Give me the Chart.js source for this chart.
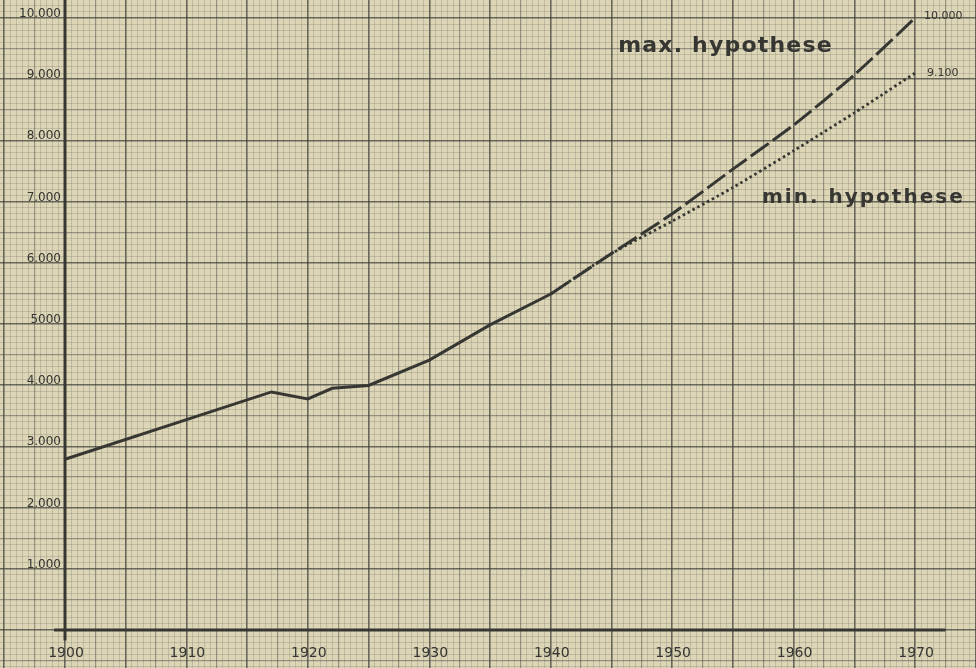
<!DOCTYPE html>
<html>
<head>
<meta charset="utf-8">
<title>Bevölkerung 1900 - 1970</title>
<script src="https://cdn.jsdelivr.net/npm/chart.js@4/dist/chart.umd.min.js"></script>
<style>
  html, body { margin: 0; padding: 0; background: #ddd6b6; }
  #wrap { width: 976px; height: 668px; position: relative; }
</style>
</head>
<body>
<div id="wrap"><canvas id="popChart"></canvas></div>
<script>
// --- Data ---
const histYears  = [1900, 1917, 1920, 1922, 1925, 1930, 1935, 1940];
const histValues = [2790, 3890, 3775, 3950, 3995, 4410, 4985, 5490];

const projYears = [1940, 1945, 1950, 1955, 1960, 1965, 1970];
const maxValues = [5490, 6150, 6800, 7530, 8250, 9070, 10000];
const minValues = [5490, 6150, 6680, 7230, 7830, 8450, 9100];

const seriesNames = ["max. hypothese", "min. hypothese"];
const endLabels = ["10.000", "9.100"];

const yTickValues = [1000, 2000, 3000, 4000, 5000, 6000, 7000, 8000, 9000, 10000];
const yTickLabels = ["1.000", "2.000", "3.000", "4.000", "5000", "6.000", "7.000", "8.000", "9.000", "10.000"];
const xTickYears  = [1900, 1910, 1920, 1930, 1940, 1950, 1960, 1970];
const xTickLabels = ["1900", "1910", "1920", "1930", "1940", "1950", "1960", "1970"];

// --- Look ---
const INK = "#363633";
const PAPER = "#ddd6b6";

// mm paper: fine line every step, medium every 5 steps, bold every 10 steps
function gridColor(step) {
  return ctx => {
    const n = Math.round(ctx.tick.value / step);
    if (n % 10 === 0) return "rgba(60,60,56,0.72)";
    if (n % 5 === 0) return "rgba(70,70,66,0.48)";
    return "rgba(95,95,90,0.30)";
  };
}
function gridWidth(step) {
  return ctx => {
    const n = Math.round(ctx.tick.value / step);
    if (n % 10 === 0) return 1.6;
    if (n % 5 === 0) return 1.2;
    return 0.8;
  };
}

const paperBg = {
  id: "paperBg",
  beforeDraw(chart) {
    const c = chart.ctx;
    c.save();
    c.fillStyle = PAPER;
    c.fillRect(0, 0, chart.width, chart.height);
    c.restore();
  }
};

// heavy hand drawn axes at 1900 and 0
const axesLines = {
  id: "axesLines",
  beforeDatasetsDraw(chart) {
    const {ctx, scales: {x, y}} = chart;
    ctx.save();
    ctx.strokeStyle = INK;
    ctx.lineWidth = 3;
    ctx.beginPath();
    ctx.moveTo(x.getPixelForValue(1900), y.getPixelForValue(10294));
    ctx.lineTo(x.getPixelForValue(1900), y.getPixelForValue(-170));
    ctx.moveTo(x.getPixelForValue(1899.1), y.getPixelForValue(0));
    ctx.lineTo(x.getPixelForValue(1972.5), y.getPixelForValue(0));
    ctx.stroke();
    ctx.restore();
  }
};

// tick labels and notes
const labels = {
  id: "labels",
  afterDatasetsDraw(chart) {
    const {ctx, scales: {x, y}} = chart;
    const x0 = x.getPixelForValue(1900);
    ctx.save();
    ctx.fillStyle = INK;

    ctx.font = "12px 'DejaVu Sans'";
    ctx.textAlign = "right";
    ctx.textBaseline = "alphabetic";
    yTickValues.forEach((v, i) => {
      ctx.fillText(yTickLabels[i], x0 - 4, y.getPixelForValue(v) - 1);
    });

    ctx.font = "14px 'DejaVu Sans'";
    ctx.textAlign = "center";
    xTickYears.forEach((yr, i) => {
      ctx.fillText(xTickLabels[i], x.getPixelForValue(yr) + 1, y.getPixelForValue(-440));
    });

    ctx.font = "11px 'DejaVu Sans'";
    ctx.textAlign = "left";
    const last = projYears.length - 1;
    ctx.fillText(endLabels[0], x.getPixelForValue(projYears[last]) + 9, y.getPixelForValue(maxValues[last]) + 1);
    ctx.fillText(endLabels[1], x.getPixelForValue(projYears[last]) + 12, y.getPixelForValue(minValues[last]) + 3);

    ctx.font = "bold 22px 'DejaVu Sans'";
    ctx.letterSpacing = "1.2px";
    ctx.fillText(seriesNames[0], x.getPixelForValue(1945.55), y.getPixelForValue(9440));
    ctx.font = "bold 20px 'DejaVu Sans'";
    ctx.letterSpacing = "2px";
    ctx.fillText(seriesNames[1], x.getPixelForValue(1957.4), y.getPixelForValue(6980));
    ctx.restore();
  }
};

const toPoints = (xs, ys) => xs.map((v, i) => ({x: v, y: ys[i]}));

new Chart(document.getElementById("popChart"), {
  type: "line",
  data: {
    datasets: [
      {
        label: "1900-1940",
        data: toPoints(histYears, histValues),
        borderColor: INK,
        borderWidth: 3,
        pointRadius: 0,
        tension: 0
      },
      {
        label: seriesNames[0],
        data: toPoints(projYears, maxValues),
        borderColor: INK,
        borderWidth: 3,
        borderDash: [22, 5],
        pointRadius: 0,
        tension: 0.2
      },
      {
        label: seriesNames[1],
        data: toPoints(projYears, minValues),
        borderColor: INK,
        borderWidth: 2.8,
        borderDash: [2.5, 3],
        pointRadius: 0,
        tension: 0.2
      }
    ]
  },
  options: {
    responsive: true,
    maintainAspectRatio: false,
    animation: false,
    layout: { padding: 0 },
    plugins: {
      legend: { display: false },
      tooltip: { enabled: false }
    },
    scales: {
      x: {
        type: "linear",
        min: 1894.647,
        max: 1975.02,
        border: { display: false },
        ticks: { display: false, stepSize: 0.5, includeBounds: false },
        grid: { drawTicks: false, color: gridColor(0.5), lineWidth: gridWidth(0.5) }
      },
      y: {
        type: "linear",
        min: -621,
        max: 10294,
        border: { display: false },
        ticks: { display: false, stepSize: 100, includeBounds: false },
        grid: { drawTicks: false, color: gridColor(100), lineWidth: gridWidth(100) }
      }
    }
  },
  plugins: [paperBg, axesLines, labels]
});
</script>
</body>
</html>
